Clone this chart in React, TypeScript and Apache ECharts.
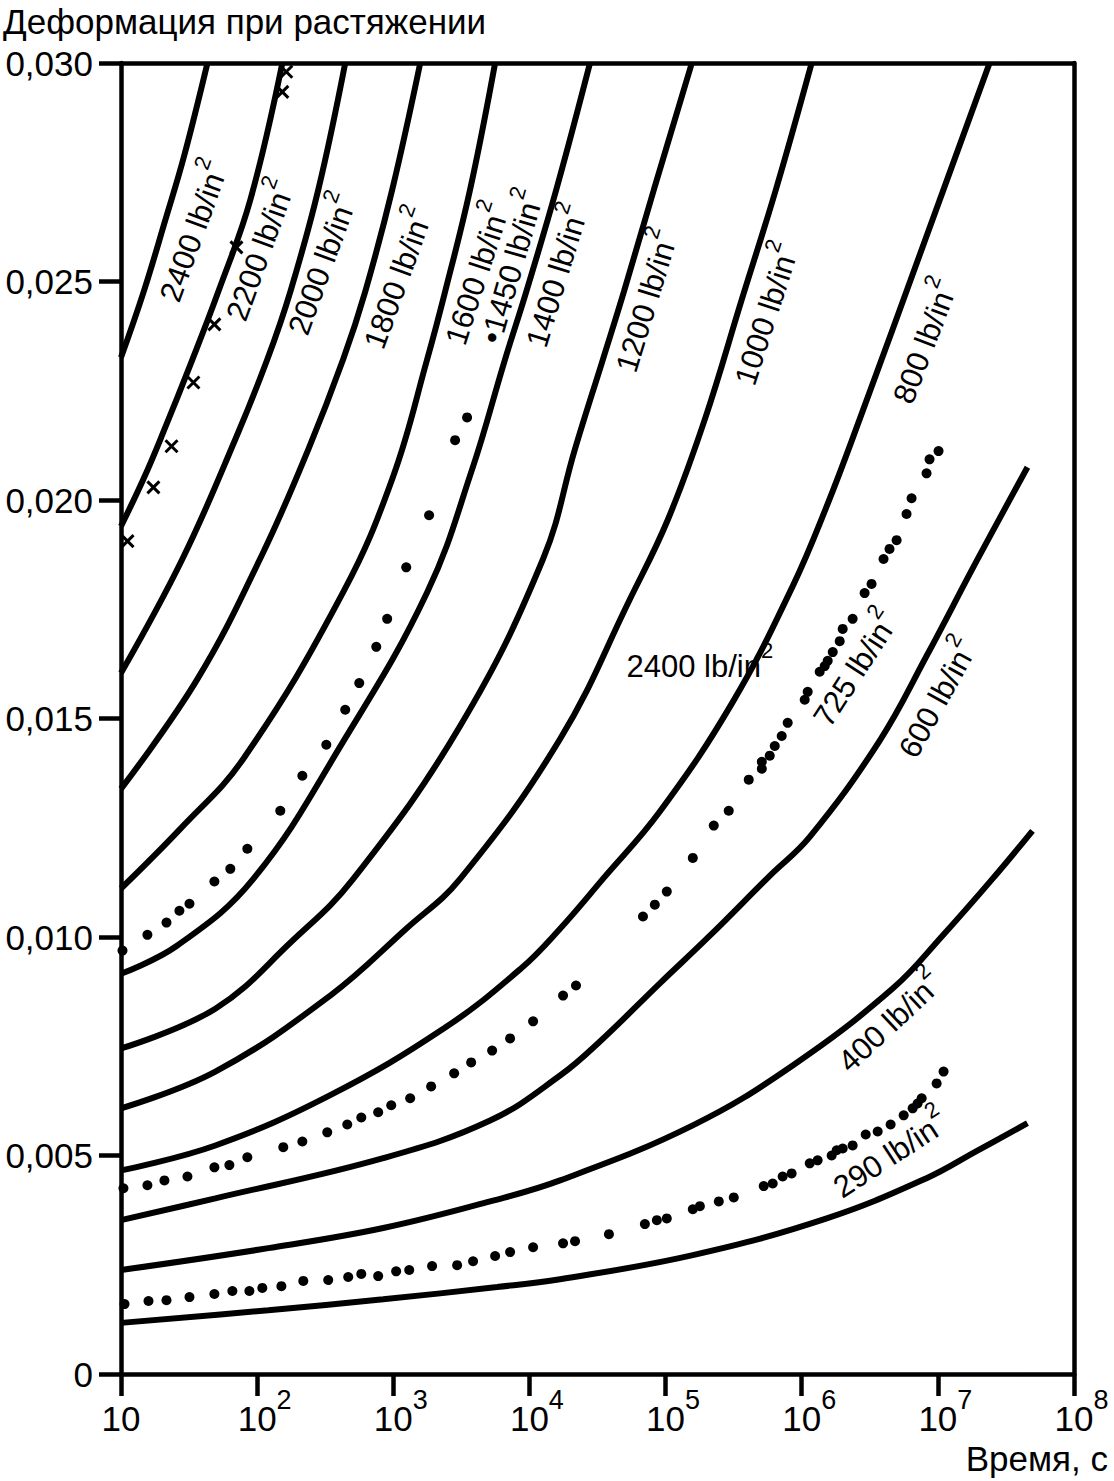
import React, { useEffect, useRef } from 'react';
import * as echarts from 'echarts';

// Each point: [log10(time, s), tensile strain]
const curve2400 = [[1.0, 0.02326], [1.165, 0.02475], [1.327, 0.02642], [1.466, 0.0279], [1.635, 0.03]];
const curve2200 = [[1.0, 0.0194], [1.165, 0.02048], [1.304, 0.0215], [1.525, 0.02322], [1.715, 0.02477], [1.95, 0.02687], [2.185, 0.03]];
const curve2000 = [[1.0, 0.01604], [1.451, 0.01865], [1.84, 0.02139], [2.075, 0.02322], [2.244, 0.02477], [2.449, 0.0271], [2.647, 0.03]];
const curve1800 = [[1.0, 0.01339], [1.561, 0.0159], [2.038, 0.01876], [2.376, 0.02116], [2.632, 0.02322], [2.794, 0.02477], [2.992, 0.0271], [3.198, 0.03]];
const curve1600 = [[1.0, 0.01111], [1.437, 0.01248], [1.899, 0.01408], [2.632, 0.01789], [2.999, 0.02054], [3.249, 0.02322], [3.381, 0.02477], [3.564, 0.0271], [3.748, 0.03]];
const curve1400 = [[1.0, 0.00916], [1.411, 0.0098], [1.972, 0.01133], [2.632, 0.01447], [3.249, 0.01789], [3.579, 0.0207], [3.821, 0.02322], [3.977, 0.02477], [4.197, 0.0271], [4.445, 0.03]];
const curve1200 = [[1.0, 0.00745], [1.693, 0.00836], [2.251, 0.00989], [2.706, 0.01133], [3.491, 0.01483], [4.1, 0.01865], [4.334, 0.02116], [4.54, 0.02322], [4.694, 0.02477], [4.914, 0.0271], [5.193, 0.03]];
const curve1000 = [[1.0, 0.00608], [1.693, 0.00692], [2.537, 0.00866], [3.095, 0.01019], [3.491, 0.01133], [4.225, 0.01453], [4.738, 0.01773], [5.018, 0.01956], [5.289, 0.02185], [5.56, 0.02459], [5.81, 0.0271], [6.073, 0.03]];
const curve800 = [[1.0, 0.00466], [1.693, 0.00523], [2.537, 0.00638], [3.373, 0.00791], [3.938, 0.00928], [4.225, 0.01019], [4.54, 0.01133], [4.958, 0.01287], [5.494, 0.01538], [5.934, 0.01803], [6.184, 0.01986], [6.426, 0.02185], [6.902, 0.02591], [7.38, 0.03]];
const curve600 = [[1.0, 0.00352], [1.693, 0.00402], [2.926, 0.00494], [3.711, 0.0058], [4.225, 0.00683], [4.518, 0.00761], [4.958, 0.00894], [5.325, 0.01003], [5.765, 0.0114], [6.059, 0.01229], [6.572, 0.01449], [6.917, 0.01643], [7.284, 0.0186], [7.658, 0.02075]];
const curve400 = [[1.0, 0.00238], [2.082, 0.00288], [2.926, 0.00334], [3.711, 0.00395], [4.225, 0.00443], [5.2, 0.00569], [5.934, 0.00706], [6.668, 0.00882], [7.034, 0.01003], [7.401, 0.01133], [7.695, 0.01243]];
const curve290 = [[1.0, 0.00117], [2.082, 0.00146], [2.926, 0.00171], [3.763, 0.00199], [4.225, 0.00217], [5.2, 0.00272], [6.184, 0.00356], [6.917, 0.00448], [7.284, 0.0051], [7.658, 0.00574]];

const curves = [curve2400, curve2200, curve2000, curve1800, curve1600, curve1400, curve1200, curve1000, curve800, curve600, curve400, curve290];
const curveStress = ['2400', '2200', '2000', '1800', '1600', '1400', '1200', '1000', '800', '600', '400', '290'];

// measured points, crosses
const crosses = [[1.048, 0.01906], [1.238, 0.02029], [1.371, 0.02123], [1.532, 0.02269], [1.686, 0.02402], [1.848, 0.02578], [2.185, 0.02934], [2.214, 0.0298]];

// measured points, dots (1450 lb/in2)
const dots1450 = [[1.011, 0.00969], [1.194, 0.01005], [1.334, 0.01033], [1.429, 0.0106], [1.503, 0.01076], [1.686, 0.01127], [1.803, 0.01156], [1.928, 0.01202], [2.17, 0.01289], [2.332, 0.01369], [2.508, 0.0144], [2.647, 0.0152], [2.75, 0.01581], [2.875, 0.01664], [2.955, 0.01728], [3.095, 0.01846], [3.263, 0.01965], [3.454, 0.02137], [3.542, 0.02189]];

// measured points, dots (725 lb/in2)
const dots725 = [[1.018, 0.00425], [1.194, 0.00432], [1.319, 0.00443], [1.488, 0.00452], [1.686, 0.00473], [1.796, 0.00478], [1.928, 0.00496], [2.192, 0.00519], [2.332, 0.00532], [2.515, 0.00553], [2.662, 0.00571], [2.765, 0.00587], [2.889, 0.00599], [2.985, 0.00615], [3.124, 0.00631], [3.278, 0.00658], [3.447, 0.00688], [3.572, 0.00713], [3.726, 0.0074], [3.858, 0.00768], [4.027, 0.00807], [4.247, 0.00866], [4.342, 0.00889], [4.834, 0.01047], [4.921, 0.01074], [5.009, 0.01104], [5.2, 0.01181], [5.354, 0.01255], [5.464, 0.01289], [5.611, 0.0136], [5.707, 0.01385], [5.707, 0.01401], [5.765, 0.01415], [5.802, 0.01437], [5.853, 0.0146], [5.897, 0.0149], [6.022, 0.01543], [6.044, 0.01561], [6.132, 0.01607], [6.169, 0.0162], [6.191, 0.01632], [6.228, 0.01652], [6.279, 0.01677], [6.301, 0.01705], [6.374, 0.01728], [6.462, 0.01787], [6.513, 0.01808], [6.601, 0.01865], [6.645, 0.01888], [6.697, 0.01908], [6.77, 0.01968], [6.807, 0.02004], [6.917, 0.02061], [6.939, 0.02093], [7.005, 0.02112]];

// measured points, dots (290 lb/in2)
const dots290 = [[1.026, 0.0016], [1.202, 0.00167], [1.334, 0.00169], [1.503, 0.00176], [1.686, 0.00183], [1.818, 0.0019], [1.943, 0.0019], [2.038, 0.00197], [2.178, 0.00201], [2.339, 0.00213], [2.522, 0.00215], [2.669, 0.00222], [2.765, 0.00229], [2.889, 0.00224], [3.021, 0.00235], [3.117, 0.00238], [3.285, 0.00247], [3.469, 0.00249], [3.586, 0.00258], [3.748, 0.0027], [3.858, 0.00279], [4.027, 0.0029], [4.247, 0.00299], [4.335, 0.00304], [4.584, 0.0032], [4.848, 0.00343], [4.936, 0.00352], [5.009, 0.00356], [5.2, 0.00377], [5.252, 0.00384], [5.391, 0.00395], [5.501, 0.00404], [5.721, 0.0043], [5.787, 0.00436], [5.86, 0.00452], [5.926, 0.00459], [6.059, 0.00482], [6.117, 0.00489], [6.22, 0.005], [6.257, 0.00512], [6.301, 0.00516], [6.374, 0.00523], [6.47, 0.00548], [6.558, 0.00555], [6.653, 0.00571], [6.749, 0.00592], [6.815, 0.00608], [6.851, 0.00619], [6.881, 0.00631], [6.991, 0.00665], [7.042, 0.00692]];

// curve annotations
const labelTexts = ['2400 lb/in', '2200 lb/in', '2000 lb/in', '1800 lb/in', '1600 lb/in', '•1450 lb/in', '1400 lb/in', '1200 lb/in', '1000 lb/in', '800 lb/in', '725 lb/in', '600 lb/in', '2400 lb/in', '400 lb/in', '290 lb/in'];
const labelAnchorLg = [1.5, 1.988, 2.443, 3.0, 3.581, 3.835, 4.166, 4.826, 5.707, 6.872, 6.366, 6.968, 5.252, 6.624, 6.632];
const labelAnchorStrain = [0.02619, 0.02575, 0.02543, 0.02511, 0.02521, 0.02537, 0.02516, 0.02459, 0.02429, 0.02367, 0.0162, 0.01552, 0.01632, 0.00814, 0.00512];
const labelAngle = [70, 70, 70, 70, 72, 74, 73, 73, 72, 69, 57, 61, 0, 43, 33];

const yTicks = [0, 0.005, 0.01, 0.015, 0.02, 0.025, 0.03];
const yTitle = 'Деформация при растяжении';
const xTitle = 'Время, с';

const FONT = '"Liberation Sans", Arial, Helvetica, sans-serif';
const BLACK = '#000';

const toXY = (p: number[]) => [Math.pow(10, p[0]), p[1]];

export default function App() {
  const ref = useRef<HTMLDivElement>(null);

  useEffect(() => {
    if (!ref.current) return;
    const chart = echarts.init(ref.current, null, { renderer: 'svg' });

    const lineSeries = curves.map((c, i) => ({
      type: 'line',
      name: curveStress[i] + ' lb/in2',
      data: c.map(toXY),
      smooth: 0.4,
      symbol: 'none',
      lineStyle: { color: BLACK, width: 6, opacity: 1 },
      itemStyle: { color: BLACK },
      z: 2,
      silent: true,
    }));

    const dotStyle = {
      type: 'scatter',
      symbol: 'circle',
      symbolSize: 10,
      itemStyle: { color: BLACK, opacity: 1 },
      z: 3,
      silent: true,
    };

    const labelData = labelTexts.map((t, i) => ({
      value: [Math.pow(10, labelAnchorLg[i]), labelAnchorStrain[i]],
      label: {
        rotate: labelAngle[i],
        formatter: '{n|' + t + '}{s|2}',
      },
    }));

    const richBase = { fontFamily: FONT, color: BLACK, textBorderWidth: 0, textBorderColor: 'transparent' };

    const option = {
      animation: false,
      backgroundColor: '#fff',
      grid: { left: 121, top: 63, width: 953, height: 1311, containLabel: false },
      xAxis: [
        {
          type: 'log',
          logBase: 10,
          min: 10,
          max: 1e8,
          position: 'bottom',
          axisLine: { show: true, onZero: false, lineStyle: { color: BLACK, width: 4.5 } },
          axisTick: { show: true, inside: false, length: 22, lineStyle: { color: BLACK, width: 4.5 } },
          minorTick: { show: false },
          splitLine: { show: false },
          axisLabel: {
            margin: 12,
            color: BLACK,
            formatter: (v: number) => {
              const e = Math.round(Math.log10(v));
              return e === 1 ? '{n|10}' : '{p|}{n|10}{s|' + e + '}';
            },
            rich: {
              n: { ...richBase, fontSize: 35, lineHeight: 50, verticalAlign: 'bottom' },
              s: { ...richBase, fontSize: 27, lineHeight: 27, verticalAlign: 'top' },
              p: { width: 15 },
            },
          },
        },
        {
          type: 'log',
          logBase: 10,
          min: 10,
          max: 1e8,
          position: 'top',
          axisLine: { show: true, onZero: false, lineStyle: { color: BLACK, width: 4.5 } },
          axisTick: { show: false },
          axisLabel: { show: false },
          splitLine: { show: false },
        },
      ],
      yAxis: [
        {
          type: 'value',
          min: yTicks[0],
          max: yTicks[yTicks.length - 1],
          interval: 0.005,
          axisLine: { show: true, onZero: false, lineStyle: { color: BLACK, width: 4.5 } },
          axisTick: { show: true, inside: false, length: 22, lineStyle: { color: BLACK, width: 4.5 } },
          splitLine: { show: false },
          axisLabel: {
            margin: 28,
            color: BLACK,
            fontSize: 35,
            fontFamily: FONT,
            formatter: (v: number) => (v === 0 ? '0' : v.toFixed(3).replace('.', ',')),
          },
        },
        {
          type: 'value',
          min: yTicks[0],
          max: yTicks[yTicks.length - 1],
          position: 'right',
          axisLine: { show: true, onZero: false, lineStyle: { color: BLACK, width: 4.5 } },
          axisTick: { show: false },
          axisLabel: { show: false },
          splitLine: { show: false },
        },
      ],
      graphic: [
        {
          type: 'text',
          left: 3,
          top: 4,
          style: { text: yTitle, font: '35px ' + FONT, fill: BLACK },
        },
        {
          type: 'text',
          right: 6,
          top: 1441,
          style: { text: xTitle, font: '35px ' + FONT, fill: BLACK },
        },
      ],
      series: [
        ...lineSeries,
        { ...dotStyle, name: 'dots1450', data: dots1450.map(toXY) },
        { ...dotStyle, name: 'dots725', data: dots725.map(toXY) },
        { ...dotStyle, name: 'dots290', data: dots290.map(toXY) },
        {
          type: 'scatter',
          name: 'crosses',
          data: crosses.map(toXY),
          symbol: 'path://M0,0L10,10M10,0L0,10',
          symbolSize: 12,
          itemStyle: { color: 'none', borderColor: BLACK, borderWidth: 3, opacity: 1 },
          z: 3,
          silent: true,
        },
        {
          type: 'scatter',
          name: 'labels',
          data: labelData,
          symbolSize: 0,
          itemStyle: { color: BLACK, opacity: 1 },
          silent: true,
          z: 4,
          label: {
            show: true,
            position: 'inside',
            color: BLACK,
            opacity: 1,
            textBorderWidth: 0,
            textBorderColor: 'transparent',
            rich: {
              n: { ...richBase, fontSize: 31, lineHeight: 42, verticalAlign: 'bottom' },
              s: { ...richBase, fontSize: 22, lineHeight: 22, verticalAlign: 'top' },
            },
          },
        },
      ],
    };

    chart.setOption(option as any);
    return () => chart.dispose();
  }, []);

  return (
    <div
      ref={ref}
      style={{ position: 'absolute', left: 0, top: 0, width: 1114, height: 1481, background: '#fff' }}
    />
  );
}
